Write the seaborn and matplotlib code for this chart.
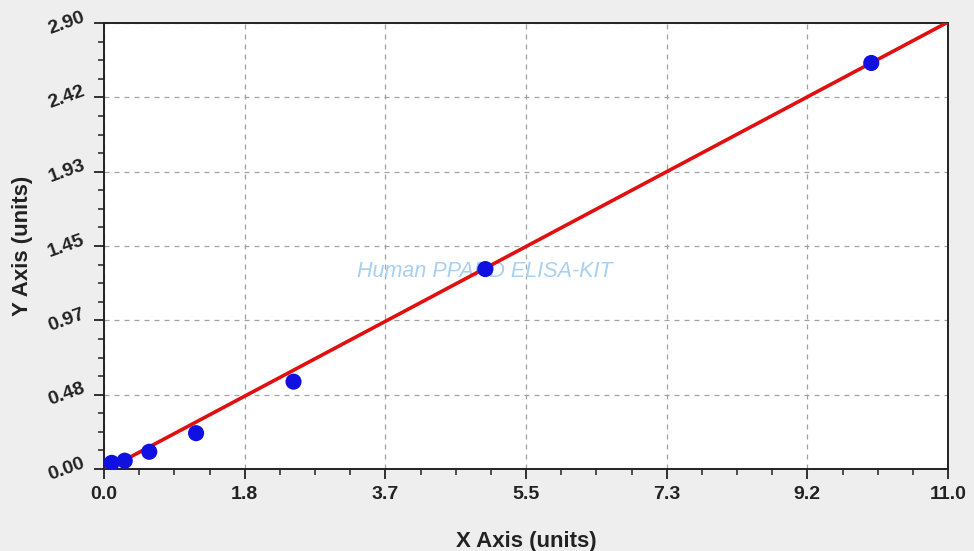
import numpy as np
import pandas as pd
import matplotlib
matplotlib.use("Agg")
import matplotlib.pyplot as plt
import seaborn as sns
from matplotlib.ticker import AutoMinorLocator

# standard points
conc = [0.10, 0.27, 0.59, 1.20, 2.47, 4.97, 10.0]
od = [0.040, 0.054, 0.112, 0.233, 0.568, 1.300, 2.640]

# fitted line, ends
fit_x = [0.0, 11.0]
fit_y = [-0.013, 2.906]

x_tick_labels = ["0.0", "1.8", "3.7", "5.5", "7.3", "9.2", "11.0"]
y_tick_labels = ["0.00", "0.48", "0.97", "1.45", "1.93", "2.42", "2.90"]

pts = pd.DataFrame({"x": conc, "y": od})
fit = pd.DataFrame({"x": fit_x, "y": fit_y})

sns.set_style("ticks")
plt.rcParams["font.family"] = ["Liberation Sans", "DejaVu Sans"]

fig = plt.figure(figsize=(9.74, 5.51), dpi=100, facecolor="#eeeeee")
ax = fig.add_axes([104 / 974, 1 - 469 / 551, 844 / 974, 446 / 551])
ax.set_facecolor("white")

sns.lineplot(data=fit, x="x", y="y", color="#e01010", linewidth=2.6, ax=ax, zorder=3)
sns.scatterplot(data=pts, x="x", y="y", color="#1010e0", s=135, edgecolor="none", ax=ax, zorder=4)

ax.set_xlim(0, 11.0)
ax.set_ylim(0, 2.90)
ax.set_xticks(np.linspace(0, 11.0, 7))
ax.set_xticklabels(x_tick_labels)
ax.set_yticks(np.linspace(0, 2.90, 7))
ax.set_yticklabels(y_tick_labels, rotation=20, va="center", ha="right")
ax.xaxis.set_minor_locator(AutoMinorLocator(4))
ax.yaxis.set_minor_locator(AutoMinorLocator(4))

ax.tick_params(axis="both", which="major", direction="out", length=7, width=1.3,
               labelsize=14, colors="#222222", pad=5)
ax.tick_params(axis="both", which="minor", direction="out", length=4, width=1.1, colors="#222222")
for lab in ax.get_xticklabels() + ax.get_yticklabels():
    lab.set_fontweight("bold")

ax.grid(True, which="major", color="#a0a0a0", linestyle=(0, (4, 4)), linewidth=0.9)
for side in ["left", "right", "top", "bottom"]:
    ax.spines[side].set_visible(True)
    ax.spines[side].set_color("#222222")
    ax.spines[side].set_linewidth(1.4)

ax.set_xlabel("X Axis (units)", fontsize=16, fontweight="bold", color="#222222", va="center")
ax.set_ylabel("Y Axis (units)", fontsize=16, fontweight="bold", color="#222222", va="center")
ax.xaxis.set_label_coords(0.5, -0.162)
ax.yaxis.set_label_coords(-0.097, 0.5)

# watermark
ax.text(0.451, 0.442, "Human PPARD ELISA-KIT", transform=ax.transAxes, ha="center", va="center",
        fontsize=15.5, style="italic", color="#a8d0f0", zorder=2)

fig.savefig("out.png", dpi=100, facecolor=fig.get_facecolor())
